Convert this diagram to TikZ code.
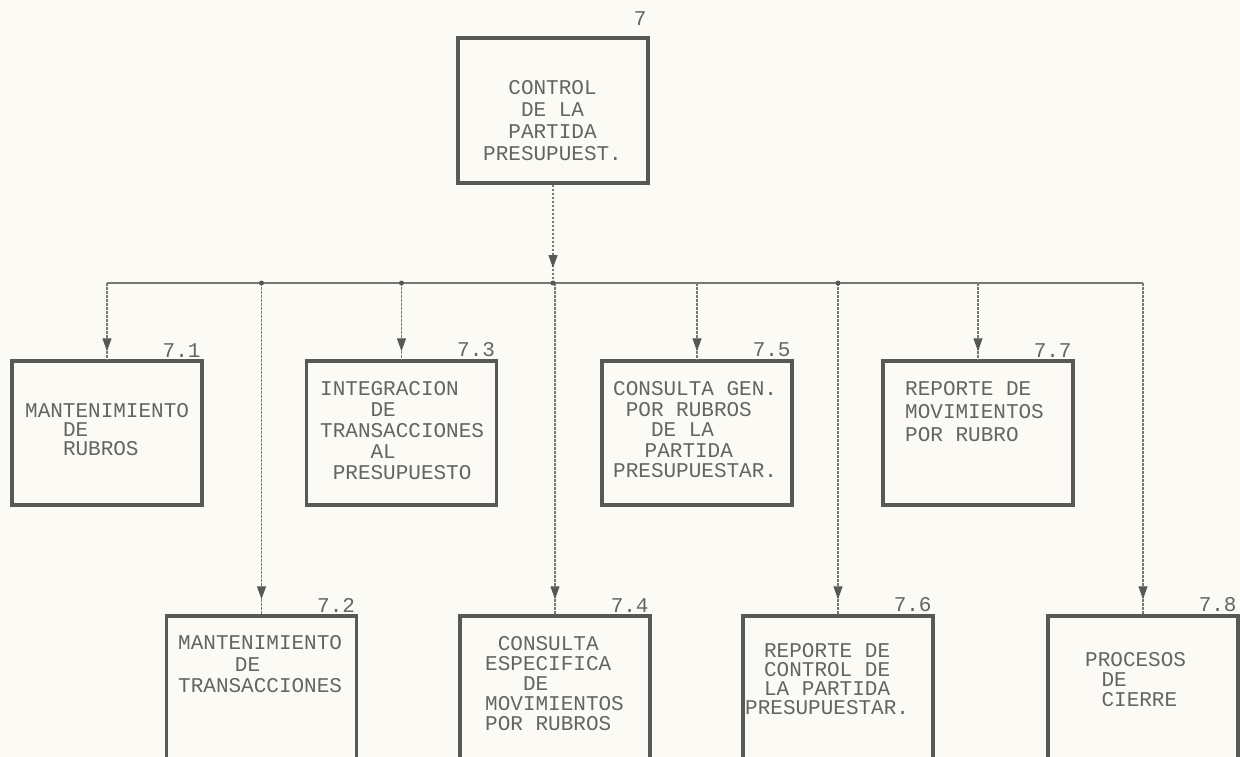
\documentclass[tikz,border=0pt]{standalone}
\usepackage{fontspec}
\newfontfamily\plotfont{Liberation Mono}
\usetikzlibrary{arrows.meta,decorations.markings}
\definecolor{paper}{RGB}{251,250,245}
\definecolor{boxc}{RGB}{88,88,86}
\definecolor{inkc}{RGB}{100,100,96}
\definecolor{linec}{RGB}{120,120,115}
\newlength\cw \setlength\cw{12.6pt}
\newcommand\ind[1]{\hspace*{#1\cw}}
\tikzset{
 procbox/.style={draw=boxc, line width=3.5pt, minimum width=190pt, minimum height=144pt, inner sep=0pt},
 boxtext/.style={anchor=north west, inner sep=0pt, align=left, text=inkc, font={\plotfont\fontsize{21}{#1}\selectfont}},
 numlabel/.style={anchor=south east, inner sep=0pt, text=inkc, font={\plotfont\fontsize{21}{21}\selectfont}},
 conn/.style={draw=linec, line width=1.3pt, dash pattern=on 2.5pt off 1.5pt},
 tipat/.style={postaction={decorate}, decoration={markings, mark=at position -#1pt with {\arrow{Triangle[length=13pt,width=9pt,color=boxc]}}}},
 hbar/.style={draw=linec, line width=1.5pt},
 jdot/.style={circle, fill=boxc, inner sep=0pt, minimum size=5pt},
}
\begin{document}
\begin{tikzpicture}[x=1pt,y=-1pt]
\fill[paper] (0,0) rectangle (1240,757);
\clip (0,0) rectangle (1240,757);
\coordinate (hl) at (0,283);

% boxes
\node[procbox, minimum height=145pt] (b7) at (553,110.5) {};
\node[procbox] (b71) at (107,433) {};
\node[procbox] (b73) at (401.5,433) {};
\node[procbox] (b75) at (697,433) {};
\node[procbox] (b77) at (978,433) {};
\node[procbox] (b72) at (261.5,688) {};
\node[procbox] (b74) at (555,688) {};
\node[procbox] (b76) at (838,688) {};
\node[procbox] (b78) at (1143,688) {};

% texts
\node[boxtext=22] (t7) at (483,80.5) {\ind{2}CONTROL\\\ind{3}DE LA\\\ind{2}PARTIDA\\PRESUPUEST.};
\node[boxtext=19] (t71) at (25,403.5) {MANTENIMIENTO\\\ind{3}DE\\\ind{3}RUBROS};
\node[boxtext=21] (t73) at (320,381.5) {INTEGRACION\\\ind{4}DE\\TRANSACCIONES\\\ind{4}AL\\\ind{1}PRESUPUESTO};
\node[boxtext=20.5] (t75) at (613,381.5) {CONSULTA GEN.\\\ind{1}POR RUBROS\\\ind{3}DE LA\\\ind{2.5}PARTIDA\\PRESUPUESTAR.};
\node[boxtext=23] (t77) at (905,381.5) {REPORTE DE\\MOVIMIENTOS\\POR RUBRO};
\node[boxtext=21.5] (t72) at (178,635.5) {MANTENIMIENTO\\\ind{4.5}DE\\TRANSACCIONES};
\node[boxtext=20] (t74) at (485,636.5) {\ind{1}CONSULTA\\ESPECIFICA\\\ind{3}DE\\MOVIMIENTOS\\POR RUBROS};
\node[boxtext=19] (t76) at (745,643.5) {\ind{1.5}REPORTE DE\\\ind{1.5}CONTROL DE\\\ind{1.5}LA PARTIDA\\PRESUPUESTAR.};
\node[boxtext=20] (t78) at (1085,652) {PROCESOS\\\ind{1.3}DE\\\ind{1.3}CIERRE};

% number labels
\node[numlabel] (n7) at ([xshift=-3pt,yshift=11pt]b7.north east) {7};
\node[numlabel] (n71) at ([xshift=-3pt,yshift=2pt]b71.north east) {7.1};
\node[numlabel] (n73) at ([xshift=-3pt,yshift=2pt]b73.north east) {7.3};
\node[numlabel] (n75) at ([xshift=-3pt,yshift=2pt]b75.north east) {7.5};
\node[numlabel] (n77) at ([xshift=-3pt,yshift=2pt]b77.north east) {7.7};
\node[numlabel] (n72) at ([xshift=-3pt,yshift=2pt]b72.north east) {7.2};
\node[numlabel] (n74) at ([xshift=-3pt,yshift=2pt]b74.north east) {7.4};
\node[numlabel] (n76) at ([xshift=-3pt,yshift=2pt]b76.north east) {7.6};
\node[numlabel] (n78) at ([xshift=-3pt,yshift=2pt]b78.north east) {7.8};

% junctions
\coordinate (jt) at (b7.south |- hl);
\coordinate (j71) at (b71.north |- hl);
\coordinate (j72) at (b72.north |- hl);
\coordinate (j73) at (b73.north |- hl);
\coordinate (j74) at (b74.north |- hl);
\coordinate (j75) at (b75.north |- hl);
\coordinate (j76) at (b76.north |- hl);
\coordinate (j77) at (b77.north |- hl);
\coordinate (j78) at (b78.north |- hl);

% connectors
\draw[conn, tipat=15] (b7.south) -- (jt);
\draw[hbar] (j71) -- (j78);
\draw[conn, tipat=8] (j71) -- (b71.north);
\draw[conn, tipat=8] (j73) -- (b73.north);
\draw[conn, tipat=8] (j75) -- (b75.north);
\draw[conn, tipat=8] (j77) -- (b77.north);
\draw[conn, tipat=15] (j72) -- (b72.north);
\draw[conn, tipat=15] (j74) -- (b74.north);
\draw[conn, tipat=15] (j76) -- (b76.north);
\draw[conn, tipat=15] (j78) -- (b78.north);

\node[jdot] (d72) at (j72) {};
\node[jdot] (d73) at (j73) {};
\node[jdot] (dt) at (jt) {};
\node[jdot] (d76) at (j76) {};
\end{tikzpicture}
\end{document}
